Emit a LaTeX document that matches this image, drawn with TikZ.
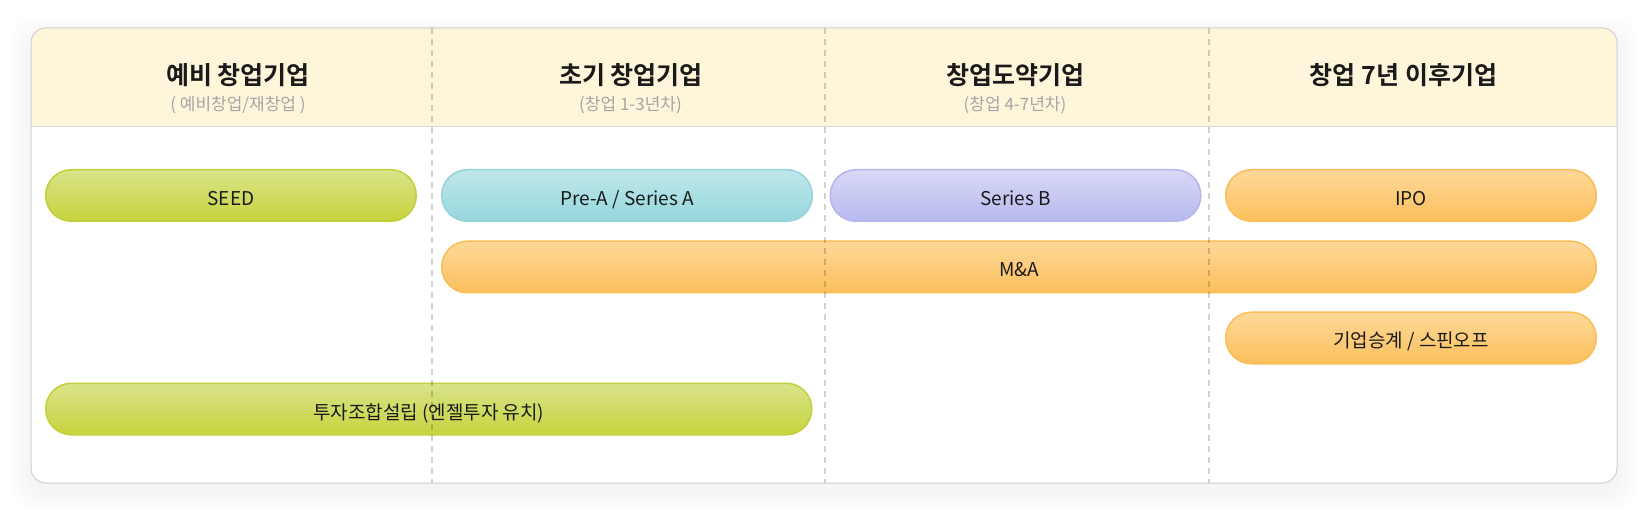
\documentclass[tikz,border=0pt]{standalone}
\usepackage{fontspec}
\setmainfont{Noto Sans CJK KR}[BoldFont={Noto Sans CJK KR Bold}]
\usetikzlibrary{calc}

\definecolor{headbg}{HTML}{FEF6DA}
\definecolor{linegray}{HTML}{D6D6D6}
\definecolor{cardline}{HTML}{CFCFCF}
\definecolor{subgray}{HTML}{A6A6A6}
\definecolor{inktext}{HTML}{1A1A1A}
\definecolor{greenT}{HTML}{DAE38A}
\definecolor{greenB}{HTML}{C6D43D}
\definecolor{greenD}{HTML}{C2CF3A}
\definecolor{tealT}{HTML}{C0E7EB}
\definecolor{tealB}{HTML}{95D7DC}
\definecolor{tealD}{HTML}{95D3DA}
\definecolor{lilacT}{HTML}{D8D8F6}
\definecolor{lilacB}{HTML}{B8BAEF}
\definecolor{lilacD}{HTML}{B3B5EC}
\definecolor{orangeT}{HTML}{FDD89A}
\definecolor{orangeB}{HTML}{FCC05B}
\definecolor{orangeD}{HTML}{FBBD55}

\begin{document}
\begin{tikzpicture}[x=1pt, y=-1pt,
    pill/.style={rounded corners=25.5pt, minimum height=51.5pt, minimum width=370.5pt,
        inner sep=0pt, line width=1.5pt, text=inktext, font=\fontsize{19}{21}\selectfont,
        text height=20pt, text depth=0pt},
    greenpill/.style={pill, top color=greenT, bottom color=greenB, draw=greenD},
    tealpill/.style={pill, top color=tealT, bottom color=tealB, draw=tealD},
    lilacpill/.style={pill, top color=lilacT, bottom color=lilacB, draw=lilacD},
    orangepill/.style={pill, top color=orangeT, bottom color=orangeB, draw=orangeD},
    coltitle/.style={font=\bfseries\fontsize{25}{28}\selectfont, text=inktext},
    colsub/.style={font=\fontsize{17}{19}\selectfont, text=subgray},
    divider/.style={draw=black, opacity=0.18, line width=1.2pt, dash pattern=on 6pt off 5pt}]
    \useasboundingbox (0,0) rectangle (1648,518);

    \coordinate (cardNW) at (31,28);
    \coordinate (cardSE) at (1617,483);

    % soft shadow
    \foreach \s in {2,4,...,20}
        \fill[black, opacity=0.005, rounded corners=20pt]
            ($(cardNW)+(-\s,-\s+8)$) rectangle ($(cardSE)+(\s,\s+8)$);

    \fill[white, rounded corners=15pt] (cardNW) rectangle (cardSE);
    \begin{scope}
        \clip[rounded corners=15pt] (cardNW) rectangle (cardSE);
        \fill[headbg] (31,28) rectangle (1617,127);
    \end{scope}
    \draw[linegray, line width=1pt] (31,127) -- (1617,127);

    \node[coltitle] (title1) at (238,75.5) {예비 창업기업};
    \node[colsub] (sub1) at (238,105.5) {( 예비창업/재창업 )};
    \node[coltitle] (title2) at (631,75.5) {초기 창업기업};
    \node[colsub] (sub2) at (630.5,105.5) {(창업 1-3년차)};
    \node[coltitle] (title3) at (1015.5,75.5) {창업도약기업};
    \node[colsub] (sub3) at (1015,105.5) {(창업 4-7년차)};
    \node[coltitle] (title4) at (1403.5,75.5) {창업 7년 이후기업};

    \node[greenpill] (seed) at (231,195.5) {SEED};
    \node[tealpill] (prea) at (627,195.5) {Pre-A / Series A};
    \node[lilacpill] (seriesb) at (1015.5,195.5) {Series B};
    \node[orangepill] (ipo) at (1411,195.5) {IPO};
    \node[orangepill, minimum width=1154.5pt] (mna) at (1019,267) {M\&A};
    \node[orangepill] (spinoff) at (1411,338) {기업승계 / 스핀오프};
    \node[greenpill, minimum width=766pt] (angel) at (428.75,409) {투자조합설립 (엔젤투자 유치)};

    \foreach \x in {432,825,1209}
        \draw[divider] (\x,28) -- (\x,483);

    \draw[cardline, line width=1pt, rounded corners=15pt] (cardNW) rectangle (cardSE);
\end{tikzpicture}
\end{document}
